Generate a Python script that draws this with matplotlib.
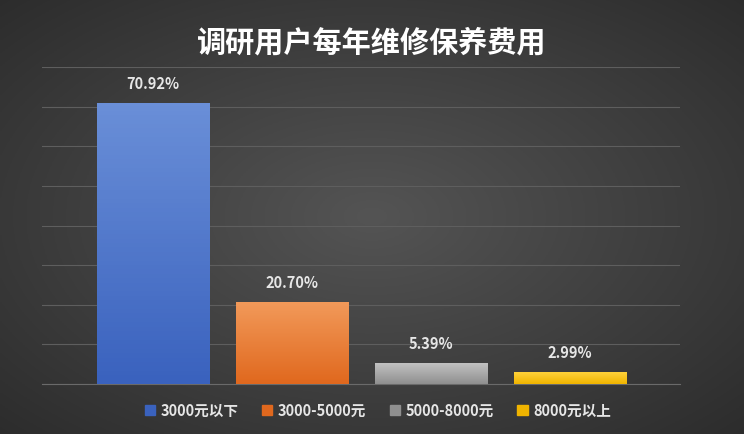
import numpy as np
import matplotlib.pyplot as plt
from matplotlib.patches import Patch

plt.rcParams["font.family"] = ["Noto Sans CJK SC", "DejaVu Sans"]

categories = ["3000元以下", "3000-5000元", "5000-8000元", "8000元以上"]
values = [70.92, 20.70, 5.39, 2.99]
labels = ["70.92%", "20.70%", "5.39%", "2.99%"]
top_colors = ["#6a8fd8", "#f29a5a", "#c4c4c4", "#ffd23a"]
bot_colors = ["#3a62be", "#e0681e", "#8f8f8f", "#f0b400"]

W, H = 744, 435
fig = plt.figure(figsize=(W / 100, H / 100), dpi=100)

# radial-ish dark background
bg = fig.add_axes([0, 0, 1, 1])
yy, xx = np.mgrid[0:1:200j, 0:1:300j]
r = np.sqrt((xx - 0.5) ** 2 + (yy - 0.5) ** 2)
shade = 0.33 - 0.22 * r
bg.imshow(np.dstack([shade] * 3), extent=(0, 1, 0, 1), aspect="auto")
bg.axis("off")

ax = fig.add_axes([42 / W, 1 - 385 / H, (680 - 42) / W, (385 - 68) / H])
ax.patch.set_alpha(0)
x = np.arange(len(values))
ax.set_yticks(np.arange(0, 81, 10))
ax.grid(axis="y", color="#5e5e5e", linewidth=0.8)
ax.set_axisbelow(True)
for s in ax.spines.values():
    s.set_visible(False)
ax.spines["bottom"].set_visible(True)
ax.spines["bottom"].set_color("#6a6a6a")
ax.tick_params(left=False, bottom=False, labelleft=False, labelbottom=False)

bars = ax.bar(x, values, width=0.806, color=bot_colors, zorder=2)
for b, c1, c2, lab in zip(bars, top_colors, bot_colors, labels):
    x0, w, h = b.get_x(), b.get_width(), b.get_height()
    grad = np.linspace(0, 1, 64)[:, None]
    a = np.array(plt.matplotlib.colors.to_rgb(c1))
    z = np.array(plt.matplotlib.colors.to_rgb(c2))
    img = a[None, None, :] * (1 - grad[..., None]) + z[None, None, :] * grad[..., None]
    im = ax.imshow(img, extent=(x0, x0 + w, 0, h), aspect="auto", zorder=3)
    im.set_clip_path(b)
    ax.text(x0 + w / 2, h + 3, lab, ha="center", va="bottom", color="#e6e6e6",
            fontsize=10.5, fontweight="bold")
ax.set_xlim(-0.80, 3.79)
ax.set_ylim(0, 80)

fig.text(0.5, 1 - 42 / H, "调研用户每年维修保养费用", ha="center", va="center",
         color="white", fontsize=21, fontweight="bold")

handles = [Patch(color=c) for c in bot_colors]
fig.legend(handles, categories, loc="center", bbox_to_anchor=(378 / W, 1 - 411 / H),
           ncol=4, frameon=False, labelcolor="#e6e6e6",
           handlelength=0.7, handleheight=0.7, columnspacing=1.6, handletextpad=0.4,
           prop={"weight": "bold", "size": 10.5})

fig.savefig("out.png", dpi=100)
